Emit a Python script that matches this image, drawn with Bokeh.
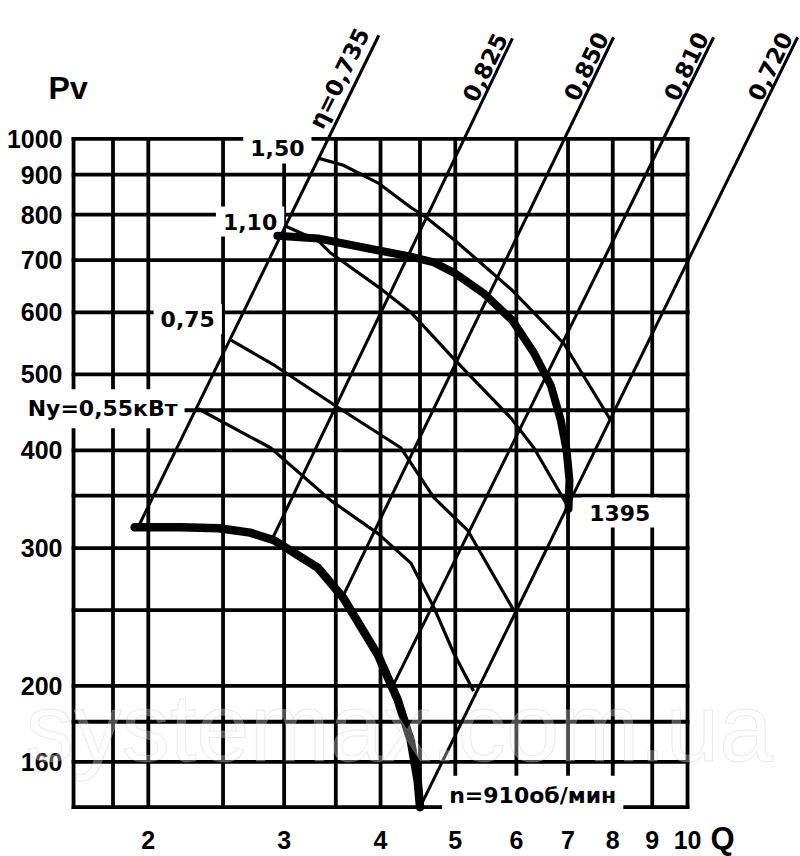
from bokeh.plotting import figure
from bokeh.models import Range1d, FixedTicker, Label, BasicTickFormatter
from bokeh.core.properties import value
from bokeh.embed import file_html
from bokeh.resources import INLINE

# ---------------- axes / grid (Q, Pv) ----------------
Q_TICKS = [2, 3, 4, 5, 6, 7, 8, 9, 10]
PV_TICKS = [160, 200, 300, 400, 500, 600, 700, 800, 900, 1000]
GRID_Q = [1.6, 1.8, 2, 2.5, 3, 3.5, 4, 4.5, 5, 6, 7, 8, 9, 10]
GRID_PV = [140, 160, 180, 200, 250, 300, 350, 400, 450, 500, 600, 700, 800, 900, 1000]

# ---------------- fan curves (thick) ----------------
Q_N910 = [1.92, 2.20, 2.47, 2.71, 2.91, 3.32, 3.58, 3.97, 4.21, 4.38, 4.47, 4.50]
PV_N910 = [319, 319, 318, 314, 307, 283, 259, 219, 192, 170, 151, 140]
Q_N1395 = [2.94, 3.32, 3.58, 3.98, 4.38, 4.69, 5.00, 5.44, 5.93, 6.32, 6.65, 6.85, 6.97, 7.03, 7.01]
PV_N1395 = [752, 746, 735, 720, 707, 695, 673, 635, 586, 533, 484, 437, 400, 366, 337]

# ---------------- power lines Ny ----------------
Q_NY150 = [3.33, 3.58, 3.98, 4.38, 4.58, 5.00, 5.93, 6.91, 7.95]
PV_NY150 = [944, 925, 877, 817, 794, 741, 640, 548, 437]
Q_NY110 = [3.00, 3.32, 3.45, 3.98, 4.38, 5.00, 5.90, 6.32, 7.01]
PV_NY110 = [775, 741, 714, 646, 600, 521, 440, 403, 338]
Q_NY075 = [2.56, 2.92, 3.52, 4.25, 4.69, 5.19, 5.95]
PV_NY075 = [553, 513, 454, 403, 348, 316, 250]
Q_NY055 = [2.32, 2.88, 3.45, 3.97, 4.38, 4.69, 4.98, 5.28]
PV_NY055 = [452, 403, 345, 313, 287, 252, 220, 197]

# ---------------- efficiency rays ----------------
RAY_LABELS = ["η=0,735", "0,825", "0,850", "0,810", "0,720"]
RAY_Q0 = [1.94, 2.89, 3.58, 4.15, 4.50]
RAY_PV0 = [319, 307, 261, 200, 140]
RAY_Q1 = [3.98, 5.93, 8.02, 10.81, 13.89]
RAY_PV1 = [1356, 1344, 1348, 1348, 1348]

# ---------------- in-chart labels ----------------
BOX_TEXT = ["1,50", "1,10", "0,75", "1395", "n=910об/мин"]
BOX_Q = [2.94, 2.71, 2.25, 8.17, 6.30]
BOX_PV = [972, 784, 588, 333, 145]

p = figure(width=800, height=856, x_axis_type="log", y_axis_type="log",
           x_range=Range1d(1.2866, 14.01), y_range=Range1d(121.1, 1502),
           output_backend="svg", toolbar_location=None, title=None,
           min_border_left=0, min_border_right=0, min_border_top=0, min_border_bottom=0)
p.xgrid.visible = False
p.ygrid.visible = False
p.outline_line_color = None
p.background_fill_color = "white"
p.border_fill_color = "white"

for ax, ticks in ((p.xaxis, Q_TICKS), (p.yaxis, PV_TICKS)):
    ax.ticker = FixedTicker(ticks=ticks, minor_ticks=[])
    ax.formatter = BasicTickFormatter(use_scientific=False)
    ax.major_label_overrides = {t: str(t) for t in ticks}
    ax.axis_line_color = None
    ax.major_tick_line_color = None
    ax.minor_tick_line_color = None
    ax.major_tick_out = 0
    ax.major_tick_in = 0
    ax.major_label_text_font = "Liberation Sans"
    ax.major_label_text_font_style = "bold"
    ax.major_label_text_font_size = "25px"
    ax.major_label_text_color = "black"
p.yaxis.fixed_location = GRID_Q[0]
p.xaxis.fixed_location = GRID_PV[0]
p.yaxis.major_label_standoff = 11
p.xaxis.major_label_standoff = 24

# grid
n_q, n_p = len(GRID_Q), len(GRID_PV)
p.segment(x0=GRID_Q, y0=[GRID_PV[0]] * n_q, x1=GRID_Q, y1=[GRID_PV[-1]] * n_q,
          line_color="black", line_width=3.8, line_cap="square")
p.segment(x0=[GRID_Q[0]] * n_p, y0=GRID_PV, x1=[GRID_Q[-1]] * n_p, y1=GRID_PV,
          line_color="black", line_width=3.8, line_cap="square")

# labels with white boxes (interrupt grid lines)
p.text(x=BOX_Q, y=BOX_PV, text=BOX_TEXT, text_font=value("DejaVu Sans"),
       text_font_style="bold", text_font_size="22px", text_color="black",
       text_align="center", text_baseline="middle",
       background_fill_color="white", padding=7)

# efficiency rays
for q0, p0, q1, p1 in zip(RAY_Q0, RAY_PV0, RAY_Q1, RAY_PV1):
    p.line([q0, q1], [p0, p1], line_color="black", line_width=3)
p.text(x=RAY_Q1, y=RAY_PV1, text=RAY_LABELS, angle=1.117, x_offset=-4,
       text_font=value("DejaVu Sans"), text_font_style="bold", text_font_size="23px",
       text_color="black", text_align="right", text_baseline="bottom")

# power lines
for qs, ps in ((Q_NY150, PV_NY150), (Q_NY110, PV_NY110), (Q_NY075, PV_NY075), (Q_NY055, PV_NY055)):
    p.line(qs, ps, line_color="black", line_width=3.2, line_join="round")

# fan curves
p.line(Q_N910, PV_N910, line_color="black", line_width=8.5, line_cap="round", line_join="round")
p.line(Q_N1395, PV_N1395, line_color="black", line_width=8, line_cap="round", line_join="round")

p.add_layout(Label(x=1.745, y=452, text="Ny=0,55кВт", text_align="center", text_baseline="middle",
                   text_font="DejaVu Sans", text_font_style="bold", text_font_size="22px",
                   text_color="black", background_fill_color="white", padding=7))
p.add_layout(Label(x=1.485, y=1160, text="Pv", text_align="left", text_baseline="middle",
                   text_font="Liberation Sans", text_font_style="bold", text_font_size="32px",
                   text_color="black"))
p.add_layout(Label(x=10.71, y=127.8, text="Q", text_align="left", text_baseline="middle",
                   text_font="Liberation Sans", text_font_style="bold", text_font_size="31px",
                   text_color="black"))
p.add_layout(Label(x=1.387, y=176.9, text="systemax.com.ua", text_align="left", text_baseline="middle",
                   text_font="Liberation Sans", text_font_size="96px",
                   text_color="white", text_alpha=0.3, text_outline_color="#b5b5b5"))

open("out.html", "w").write(file_html(p, INLINE))
